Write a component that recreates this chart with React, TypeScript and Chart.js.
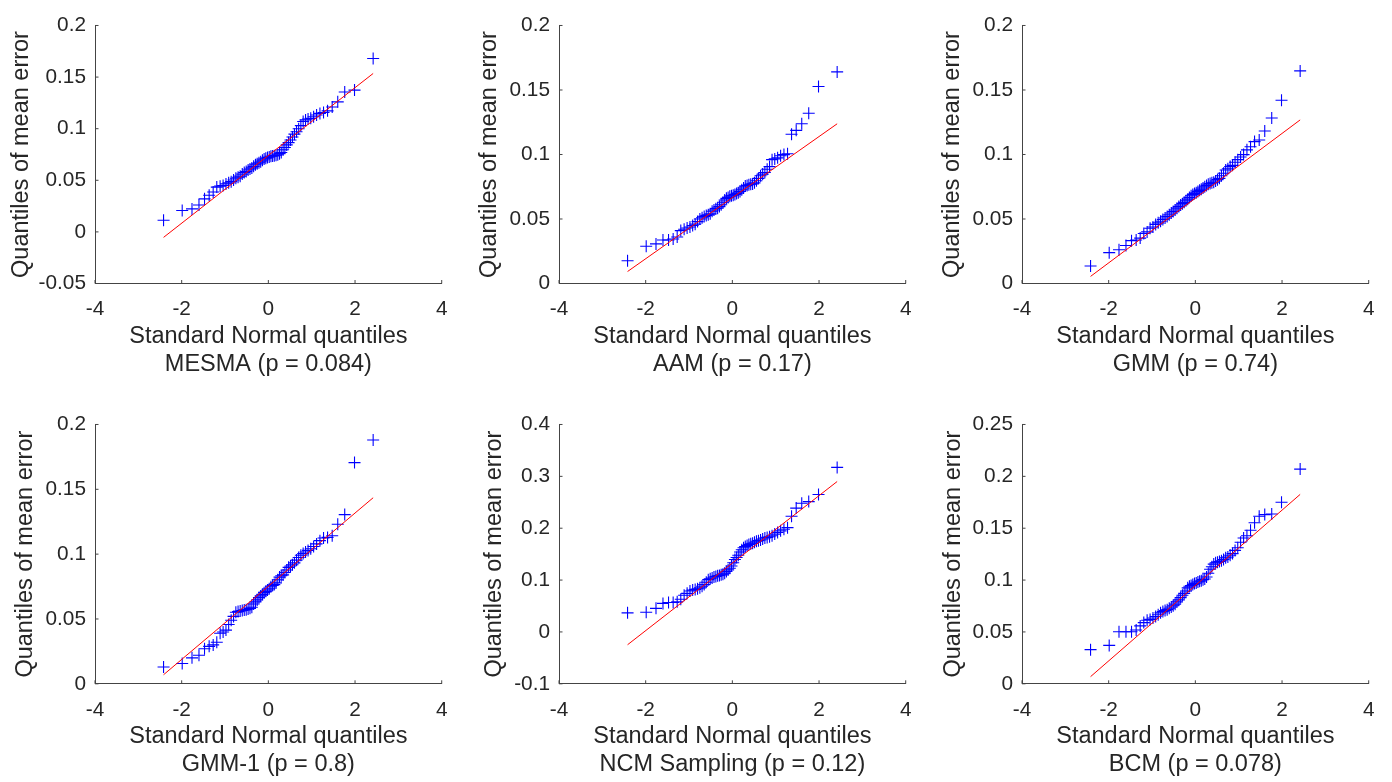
import { useEffect, useRef } from "react";
import { Chart, registerables } from "chart.js";

Chart.register(...registerables);

// Standard normal quantiles at plotting positions (i - 0.5) / 64
const NORMAL_QUANTILES = [
  -2.418, -1.988, -1.762, -1.601, -1.473, -1.366, -1.273, -1.19, -1.113, -1.044, -0.978, -0.916,
  -0.858, -0.803, -0.75, -0.699, -0.65, -0.602, -0.556, -0.511, -0.467, -0.424, -0.381, -0.34,
  -0.298, -0.258, -0.217, -0.177, -0.137, -0.098, -0.059, -0.02,
  0.02, 0.059, 0.098, 0.137, 0.177, 0.217, 0.258, 0.298, 0.34, 0.381, 0.424, 0.467,
  0.511, 0.556, 0.602, 0.65, 0.699, 0.75, 0.803, 0.858, 0.916, 0.978, 1.044, 1.113,
  1.19, 1.273, 1.366, 1.473, 1.601, 1.762, 1.988, 2.418,
];

const X_TICKS = [-4, -2, 0, 2, 4];

// Sorted mean errors of each method
const MESMA_ERR = [
  0.0113, 0.0208, 0.0223, 0.026, 0.032, 0.0355, 0.0387, 0.0434, 0.0443, 0.045, 0.0465, 0.0475,
  0.0487, 0.0503, 0.052, 0.053, 0.054, 0.056, 0.0575, 0.0585, 0.06, 0.061, 0.062, 0.0635,
  0.065, 0.066, 0.067, 0.068, 0.0695, 0.0707, 0.0714, 0.072,
  0.0726, 0.0733, 0.0736, 0.0739, 0.0742, 0.0748, 0.0758, 0.077, 0.0796, 0.0818, 0.0843, 0.0865,
  0.089, 0.092, 0.0947, 0.097, 0.1, 0.103, 0.107, 0.1085, 0.1094, 0.11, 0.1116, 0.1132,
  0.1148, 0.1157, 0.1173, 0.121, 0.126, 0.1355, 0.1374, 0.168,
];
const AAM_ERR = [
  0.0176, 0.0289, 0.0307, 0.0337, 0.0337, 0.0345, 0.036, 0.041, 0.042, 0.043, 0.0438, 0.045,
  0.046, 0.048, 0.05, 0.051, 0.052, 0.0528, 0.0533, 0.054, 0.056, 0.057, 0.058, 0.0584,
  0.0596, 0.061, 0.063, 0.0647, 0.066, 0.0667, 0.0677, 0.068,
  0.0684, 0.069, 0.0697, 0.0704, 0.0714, 0.0727, 0.074, 0.0755, 0.076, 0.0765, 0.077, 0.0772,
  0.078, 0.0797, 0.0815, 0.0835, 0.0848, 0.086, 0.0886, 0.0906, 0.096, 0.0966, 0.0974, 0.099,
  0.0999, 0.1006, 0.1157, 0.1187, 0.1238, 0.132, 0.1527, 0.164,
];
const GMM_ERR = [
  0.0136, 0.0239, 0.0262, 0.0294, 0.0332, 0.0337, 0.0352, 0.0387, 0.04, 0.0428, 0.0438, 0.0458,
  0.047, 0.0483, 0.0496, 0.0508, 0.052, 0.0533, 0.0546, 0.0558, 0.057, 0.0584, 0.0596, 0.0609,
  0.0619, 0.0629, 0.0642, 0.0654, 0.0667, 0.068, 0.069, 0.0697,
  0.0704, 0.0714, 0.0722, 0.073, 0.074, 0.075, 0.076, 0.077, 0.0775, 0.078, 0.0785, 0.0795,
  0.0805, 0.0815, 0.0835, 0.0855, 0.088, 0.089, 0.0906, 0.0916, 0.094, 0.096, 0.098, 0.0999,
  0.1036, 0.106, 0.11, 0.1112, 0.1182, 0.1283, 0.1421, 0.1648,
];
const GMM1_ERR = [
  0.013, 0.0156, 0.02, 0.022, 0.027, 0.0289, 0.03, 0.032, 0.039, 0.04, 0.0414, 0.0457,
  0.049, 0.052, 0.0552, 0.0557, 0.0562, 0.0565, 0.057, 0.0572, 0.0577, 0.0582, 0.059, 0.0615,
  0.0632, 0.0647, 0.0665, 0.0678, 0.069, 0.0703, 0.0713, 0.0723,
  0.0733, 0.0748, 0.0758, 0.0765, 0.0778, 0.0803, 0.0823, 0.0833, 0.084, 0.0858, 0.0878, 0.0898,
  0.0908, 0.0918, 0.0933, 0.0954, 0.0974, 0.0991, 0.1004, 0.1016, 0.1029, 0.1041, 0.1059, 0.1079,
  0.1104, 0.1124, 0.1129, 0.1142, 0.123, 0.1305, 0.1706, 0.188,
];
const NCM_ERR = [
  0.0368, 0.038, 0.0455, 0.055, 0.0568, 0.0568, 0.058, 0.063, 0.0706, 0.0744, 0.0788, 0.0807,
  0.082, 0.0832, 0.085, 0.0882, 0.0913, 0.0957, 0.1008, 0.1026, 0.1039, 0.1058, 0.107, 0.1083,
  0.1089, 0.1102, 0.1114, 0.1133, 0.1164, 0.1196, 0.1227, 0.1271,
  0.1334, 0.1397, 0.1434, 0.1478, 0.1541, 0.1585, 0.1622, 0.1647, 0.1666, 0.1685, 0.1698, 0.171,
  0.1729, 0.1748, 0.176, 0.1773, 0.1792, 0.1811, 0.1823, 0.1836, 0.1855, 0.1886, 0.1917, 0.1949,
  0.198, 0.2011, 0.2231, 0.2388, 0.2482, 0.2513, 0.2651, 0.3172,
];
const BCM_ERR = [
  0.0329, 0.037, 0.0502, 0.0502, 0.0502, 0.0518, 0.0558, 0.059, 0.0612, 0.0621, 0.0634, 0.0649,
  0.0665, 0.0684, 0.0696, 0.0706, 0.0715, 0.0728, 0.074, 0.0753, 0.0768, 0.079, 0.0809, 0.0831,
  0.0853, 0.0872, 0.0894, 0.0925, 0.0941, 0.0947, 0.0957, 0.0966,
  0.0972, 0.0982, 0.0988, 0.0994, 0.1004, 0.101, 0.1029, 0.1066, 0.1104, 0.1129, 0.1154, 0.1167,
  0.1173, 0.1179, 0.1186, 0.1198, 0.1214, 0.1223, 0.1239, 0.1255, 0.1286, 0.1311, 0.1364, 0.1405,
  0.1427, 0.148, 0.1553, 0.1615, 0.1631, 0.1637, 0.175, 0.207,
];

// Reference line through the quartiles, evaluated at the first and last quantile
const FIT_X = [-2.418, 2.418];
const MESMA_FIT = [-0.0053, 0.1535];
const AAM_FIT = [0.0093, 0.1238];
const GMM_FIT = [0.0055, 0.1268];
const GMM1_FIT = [0.007, 0.1435];
const NCM_FIT = [-0.0247, 0.29];
const BCM_FIT = [0.0069, 0.1826];

const Y_TICKS_MESMA = [-0.05, 0, 0.05, 0.1, 0.15, 0.2];
const Y_TICKS_020 = [0, 0.05, 0.1, 0.15, 0.2];
const Y_TICKS_NCM = [-0.1, 0, 0.1, 0.2, 0.3, 0.4];
const Y_TICKS_BCM = [0, 0.05, 0.1, 0.15, 0.2, 0.25];

const METHODS = ["MESMA", "AAM", "GMM", "GMM-1", "NCM Sampling", "BCM"];
const P_VALUES = ["0.084", "0.17", "0.74", "0.8", "0.12", "0.078"];
const X_LABEL = "Standard Normal quantiles";
const Y_LABEL = "Quantiles of mean error";

const PANELS = [
  { errors: MESMA_ERR, fit: MESMA_FIT, yTicks: Y_TICKS_MESMA },
  { errors: AAM_ERR, fit: AAM_FIT, yTicks: Y_TICKS_020 },
  { errors: GMM_ERR, fit: GMM_FIT, yTicks: Y_TICKS_020 },
  { errors: GMM1_ERR, fit: GMM1_FIT, yTicks: Y_TICKS_020 },
  { errors: NCM_ERR, fit: NCM_FIT, yTicks: Y_TICKS_NCM },
  { errors: BCM_ERR, fit: BCM_FIT, yTicks: Y_TICKS_BCM },
];

// ---- layout (page pixels) ----
const COL_LEFT = [95.3, 558.7, 1022.3];
const ROW_TOP = [19, 417.7];
const ROW_BOTTOM = [283.5, 683.5];
const PLOT_W = 352;
const Y_BOX = 88; // width of the y scale box
const PAD_TOP = 15;
const CANVAS_W = 454;
const CANVAS_H = 379;
const YLABEL_GAP = [73.5, 69.5, 69.5, 69, 64.5, 68.5]; // y-title centre left of the axis
const XTITLE_LINE2 = 81; // centre of the second x-title line below the axis

const FONT = '"Liberation Sans", Arial, Helvetica, sans-serif';
const TICK_SIZE = 20.8;
const TITLE_SIZE = 23.5;
const TITLE_LINE = 1.21;
const TEXT = "#262626";
const AXIS = "#444444";
const MARKER = "#0000ff";
const FIT = "#ff0000";

Chart.defaults.font.family = FONT;

const fmt = (v: number) => String(parseFloat(Number(v).toFixed(4)));

// MATLAB-style tick marks pointing into the plot area
const innerTicks = {
  id: "innerTicks",
  afterDraw(chart: any) {
    const { ctx, chartArea: a, scales } = chart;
    const xs = scales.x;
    const ys = scales.y;
    ctx.save();
    ctx.strokeStyle = AXIS;
    ctx.lineWidth = 1;
    ctx.beginPath();
    xs.ticks.forEach((t: any) => {
      const px = xs.getPixelForValue(t.value);
      ctx.moveTo(px, a.bottom);
      ctx.lineTo(px, a.bottom - 3.5);
    });
    ys.ticks.forEach((t: any) => {
      const py = ys.getPixelForValue(t.value);
      ctx.moveTo(a.left, py);
      ctx.lineTo(a.left + 3.5, py);
    });
    ctx.stroke();
    ctx.restore();
  },
};

function geometry(idx: number) {
  const col = idx % 3;
  const row = Math.floor(idx / 3);
  const plotH = ROW_BOTTOM[row] - ROW_TOP[row];
  const top = ROW_TOP[row] - PAD_TOP;
  const left = COL_LEFT[col] - Y_BOX;
  return { col, row, plotH, top, left };
}

function Panel({ idx }: { idx: number }) {
  const ref = useRef<HTMLCanvasElement | null>(null);
  const g = geometry(idx);

  useEffect(() => {
    const canvas = ref.current;
    if (!canvas) return;
    const p = PANELS[idx];
    const xBox = CANVAS_H - PAD_TOP - g.plotH;
    const padRight = CANVAS_W - Y_BOX - PLOT_W;
    const titleLH = TITLE_SIZE * TITLE_LINE;
    const xTitlePadBottom = Math.max(
      0,
      g.top + CANVAS_H - (ROW_BOTTOM[g.row] + XTITLE_LINE2) - titleLH / 2
    );
    const yTitleCenter = Y_BOX - YLABEL_GAP[idx];
    const yTitlePadTop = Math.max(0, yTitleCenter - (TITLE_SIZE * 1.2) / 2);
    const yt = p.yTicks;

    const chart = new Chart(canvas, {
      type: "scatter",
      data: {
        datasets: [
          {
            type: "line",
            data: FIT_X.map((x, i) => ({ x, y: p.fit[i] })),
            borderColor: FIT,
            borderWidth: 1,
            pointRadius: 0,
            fill: false,
            order: 0,
          },
          {
            data: NORMAL_QUANTILES.map((x, i) => ({ x, y: p.errors[i] })),
            pointStyle: "cross",
            pointRadius: 6,
            pointBorderColor: MARKER,
            pointBorderWidth: 1.1,
            borderColor: MARKER,
            backgroundColor: MARKER,
            showLine: false,
            order: 1,
          },
        ],
      } as any,
      options: {
        responsive: false,
        animation: false,
        devicePixelRatio: 1,
        layout: { padding: { left: 0, top: PAD_TOP, right: padRight, bottom: 0 } },
        plugins: { legend: { display: false }, tooltip: { enabled: false } },
        scales: {
          x: {
            type: "linear",
            position: "bottom",
            min: X_TICKS[0],
            max: X_TICKS[X_TICKS.length - 1],
            afterBuildTicks: (s: any) => {
              s.ticks = X_TICKS.map((v) => ({ value: v }));
            },
            afterFit: (s: any) => {
              s.height = xBox;
            },
            grid: { display: false, drawTicks: false },
            border: { display: true, color: AXIS, width: 1 },
            ticks: {
              color: TEXT,
              font: { size: TICK_SIZE },
              padding: 13.5,
              maxRotation: 0,
              autoSkip: false,
              callback: (v: any) => fmt(v),
            },
            title: {
              display: true,
              text: [X_LABEL, `${METHODS[idx]} (p = ${P_VALUES[idx]})`],
              color: TEXT,
              font: { size: TITLE_SIZE, lineHeight: TITLE_LINE },
              padding: { top: 0, bottom: xTitlePadBottom },
            },
          },
          y: {
            type: "linear",
            position: "left",
            min: yt[0],
            max: yt[yt.length - 1],
            afterBuildTicks: (s: any) => {
              s.ticks = yt.map((v) => ({ value: v }));
            },
            afterFit: (s: any) => {
              s.width = Y_BOX;
            },
            grid: { display: false, drawTicks: false },
            border: { display: true, color: AXIS, width: 1 },
            ticks: {
              color: TEXT,
              font: { size: TICK_SIZE },
              padding: 9,
              autoSkip: false,
              callback: (v: any) => fmt(v),
            },
            title: {
              display: true,
              text: Y_LABEL,
              color: TEXT,
              font: { size: TITLE_SIZE, lineHeight: 1.2 },
              padding: { top: yTitlePadTop, bottom: 0 },
            },
          },
        },
      } as any,
      plugins: [innerTicks],
    });
    return () => chart.destroy();
  }, [idx]);

  return (
    <canvas
      ref={ref}
      width={CANVAS_W}
      height={CANVAS_H}
      style={{
        position: "absolute",
        left: g.left,
        top: g.top,
        width: CANVAS_W,
        height: CANVAS_H,
      }}
    />
  );
}

export default function App() {
  return (
    <div
      style={{
        position: "fixed",
        left: 0,
        top: 0,
        width: 1392,
        height: 782,
        overflow: "hidden",
        background: "#ffffff",
      }}
    >
      {PANELS.map((_, i) => (
        <Panel key={i} idx={i} />
      ))}
    </div>
  );
}
